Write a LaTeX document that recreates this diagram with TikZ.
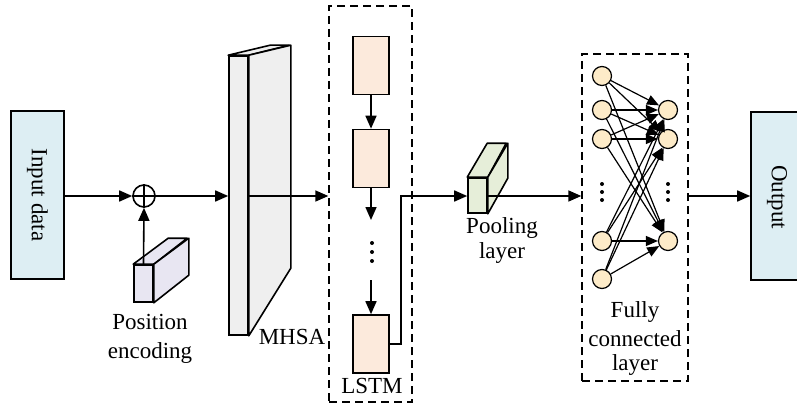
\documentclass[tikz,border=0pt]{standalone}
\usepackage{fontspec}
\setmainfont{Liberation Serif}
\usetikzlibrary{arrows.meta}
\definecolor{ioblue}{HTML}{DDEEF3}
\definecolor{peach}{HTML}{FCEADC}
\definecolor{lav}{HTML}{E8E6F2}
\definecolor{slab}{HTML}{EFEFEF}
\definecolor{pgreen}{HTML}{E6EED9}
\definecolor{neur}{HTML}{FDEBC8}
\tikzset{
  ln/.style={line width=1.6pt},
  arr/.style={ln,-{Triangle[length=13pt,width=11pt]}},
  iobox/.style={draw,ln,fill=ioblue,minimum width=53pt,minimum height=168pt,inner sep=0pt},
  cell/.style={draw,ln,fill=peach,minimum width=36pt,minimum height=58pt,inner sep=0pt},
  face/.style={draw,ln,inner sep=0pt},
  neuron/.style={circle,draw,line width=1.2pt,fill=neur,minimum size=19pt,inner sep=0pt},
  dbox/.style={draw,line width=1.4pt,dash pattern=on 8pt off 5pt,inner sep=0pt},
  lbl/.style={font=\rmfamily\fontsize{23}{27}\selectfont,inner sep=0pt},
  dot/.style={circle,fill=black,minimum size=4pt,inner sep=0pt}
}
\begin{document}
\begin{tikzpicture}[x=1pt,y=-1pt]
\useasboundingbox (0,0) rectangle (797,409);
% input
\node[iobox] (in) at (37.5,195) {};
\node[lbl,rotate=-90] (intxt) at (in.center) {Input data};
% add
\node[circle,draw,ln,minimum size=22pt,inner sep=0pt] (add) at (144,196) {};
\draw[ln] (add.north) -- (add.south) (add.west) -- (add.east);
\draw[arr] (in.east |- add) -- (add.west);
% position encoding cuboid
\node[face,fill=lav,minimum width=19pt,minimum height=37pt] (pe) at (143.5,283.5) {};
\draw[ln,fill=lav,line join=round] (pe.north west) -- ++(35,-26) -- ++(19,0) -- (pe.north east) -- cycle;
\draw[ln,fill=lav,line join=round] (pe.north east) -- ++(35,-26) -- ++(0,37) -- (pe.south east) -- cycle;
\draw[arr] (pe.north) -- (add.south);
\node[lbl] (pel1) at (150,322) {Position};
\node[lbl] (pel2) at (150,353) {encoding};
% MHSA slab
\node[face,fill=slab,minimum width=19pt,minimum height=279pt] (mh) at (238.5,195.5) {};
\draw[ln,fill=slab,line join=round] (mh.north west) -- ++(42,-10) -- ++(19,0) -- (mh.north east) -- cycle;
\draw[ln,fill=slab,line join=round] (mh.north east) -- ++(42,-10) -- ++(0,223) -- (mh.south east) -- cycle;
\node[lbl] (mhl) at (292,337) {MHSA};
\draw[arr] (add.east) -- (mh.west |- add);
% LSTM box
\node[dbox,minimum width=83pt,minimum height=396pt] (lbox) at (370.5,204) {};
\draw[arr] (mh.east |- add) -- (lbox.west |- add);
\node[cell] (c1) at (371,65.5) {};
\node[cell] (c2) at (371,158.5) {};
\node[cell] (c3) at (371,344) {};
\coordinate (d1) at (371,220);
\coordinate (d2) at (371,280);
\draw[arr] (c1.south) -- (c2.north);
\draw[arr] (c2.south) -- (d1);
\draw[arr] (d2) -- (c3.north);
\node[dot] (ld1) at (372,243) {};
\node[dot] (ld2) at (372,252) {};
\node[dot] (ld3) at (372,261) {};
\node[lbl] (lstml) at (372,386) {LSTM};
% pooling cuboid
\node[face,fill=pgreen,minimum width=19pt,minimum height=35pt] (pool) at (477.5,195.5) {};
\draw[ln,fill=pgreen,line join=round] (pool.north west) -- ++(20,-34) -- ++(19,0) -- (pool.north east) -- cycle;
\draw[ln,fill=pgreen,line join=round] (pool.north east) -- ++(20,-34) -- ++(0,35) -- (pool.south east) -- cycle;
\coordinate (bend) at (401,196);
\draw[arr] (c3.east) -| (bend) -- (pool.west |- bend);
\node[lbl] (pl1) at (502,228) {Pooling};
\node[lbl] (pl2) at (502,253) {layer};
% FC box
\node[dbox,minimum width=106pt,minimum height=327pt] (fbox) at (635,217.5) {};
\draw[arr] (pool.east |- bend) -- (fbox.west |- bend);
\node[neuron] (l1) at (602,76) {};
\node[neuron] (l2) at (602,110) {};
\node[neuron] (l3) at (602,139) {};
\node[neuron] (l4) at (602,241) {};
\node[neuron] (l5) at (602,279) {};
\node[neuron] (r1) at (668,110) {};
\node[neuron] (r2) at (668,139) {};
\node[neuron] (r3) at (668,241) {};
\foreach \a in {l1,l2,l3,l4,l5}
  \foreach \b in {r1,r2,r3}
    \draw[line width=1.2pt,-{Triangle[length=12pt,width=10pt]}] (\a) -- (\b);
\foreach \x/\n in {602/a,668/b}{
  \node[dot,minimum size=4pt] (fd1\n) at (\x,184) {};
  \node[dot,minimum size=4pt] (fd2\n) at (\x,192) {};
  \node[dot,minimum size=4pt] (fd3\n) at (\x,200) {};
}
\node[lbl] (fl1) at (635,312) {Fully};
\node[lbl] (fl2) at (635,339) {connected};
\node[lbl] (fl3) at (635,365) {layer};
% output
\node[iobox,minimum height=168pt] (out) at (777.5,196) {};
\node[lbl,rotate=-90] (outtxt) at (777,197) {Output};
\draw[arr] (fbox.east |- bend) -- (out.west |- bend);
\end{tikzpicture}
\end{document}
